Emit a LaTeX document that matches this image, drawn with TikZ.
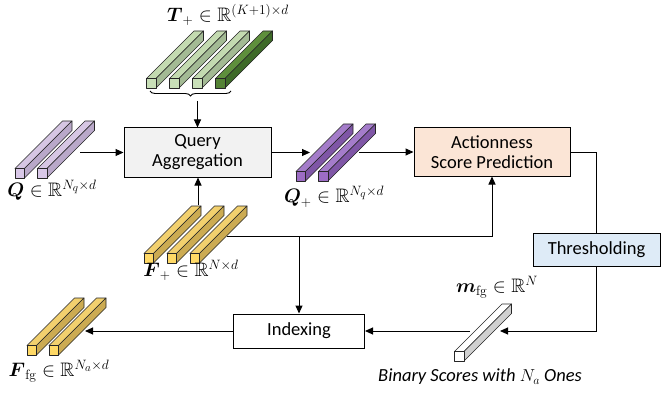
\documentclass[tikz,border=0pt]{standalone}
\usepackage{amsmath,amssymb}
\usepackage[no-math]{fontspec}
\setmainfont{Carlito}
\usetikzlibrary{arrows.meta,decorations.pathreplacing}
\definecolor{qafill}{HTML}{F2F2F2}
\definecolor{apfill}{HTML}{FBE5D6}
\definecolor{thfill}{HTML}{DEEBF7}
\definecolor{lgF}{HTML}{C9E0B8}\definecolor{lgT}{HTML}{C3DAB0}\definecolor{lgS}{HTML}{A3BA94}
\definecolor{dgF}{HTML}{548235}\definecolor{dgT}{HTML}{5E8F3C}\definecolor{dgS}{HTML}{3E6A28}
\definecolor{yF}{HTML}{FFD966}\definecolor{yT}{HTML}{F2D06E}\definecolor{yS}{HTML}{CCAB52}
\definecolor{lpF}{HTML}{D9C8E8}\definecolor{lpT}{HTML}{D6C6E3}\definecolor{lpS}{HTML}{B9A8C9}
\definecolor{dpF}{HTML}{9C6CC4}\definecolor{dpT}{HTML}{A47CCA}\definecolor{dpS}{HTML}{7F56A6}
\definecolor{wF}{HTML}{FFFFFF}\definecolor{wT}{HTML}{FFFFFF}\definecolor{wS}{HTML}{D0D0D0}
\def\bw{9.5}
\def\bd{47.5}
\newcommand{\tbar}[5]{%
  \filldraw[barline, fill=#4] (#1,#2-\bw) -- ++(\bw,0) -- ++(\bd,-\bd) -- ++(-\bw,0) -- cycle;
  \filldraw[barline, fill=#5] (#1+\bw,#2) -- ++(\bd,-\bd) -- ++(0,-\bw) -- ++(-\bd,\bd) -- cycle;
  \filldraw[barline, fill=#3] (#1,#2) rectangle ++(\bw,-\bw);
}
\newcommand{\mlab}[1]{\scalebox{0.94}{$#1$}}
\begin{document}
\begin{tikzpicture}[x=1pt,y=-1pt,
  barline/.style={draw=black!85, line width=0.6pt, line join=round},
  box/.style={draw, line width=1pt, align=center, inner sep=0pt, font=\fontsize{18.5}{20}\selectfont},
  arr/.style={-{Triangle[length=8pt,width=7pt]}, line width=1pt},
  ln/.style={line width=1pt},
  lbl/.style={inner sep=0pt, font=\fontsize{20.74}{22}\selectfont}]
\useasboundingbox (0,0) rectangle (661,393);
% boxes
\node[box, fill=qafill, minimum width=147pt, minimum height=49pt] (qa) at (197.5,152.5) {Query\\Aggregation};
\node[box, fill=apfill, minimum width=156pt, minimum height=48pt] (ap) at (492,152) {Actionness\\Score Prediction};
\node[box, fill=thfill, minimum width=127pt, minimum height=33pt] (th) at (596.5,249.5) {Thresholding};
\node[box, fill=white, minimum width=131pt, minimum height=34pt] (ix) at (299,331) {Indexing};
% bars
\tbar{15}{178}{lpF}{lpT}{lpS}
\tbar{37.5}{178}{lpF}{lpT}{lpS}
\tbar{296}{181}{dpF}{dpT}{dpS}
\tbar{318.5}{181}{dpF}{dpT}{dpS}
\tbar{146.5}{88}{lgF}{lgT}{lgS}
\tbar{169.5}{88}{lgF}{lgT}{lgS}
\tbar{192.5}{88}{lgF}{lgT}{lgS}
\tbar{215.5}{88}{dgF}{dgT}{dgS}
\tbar{144}{263}{yF}{yT}{yS}
\tbar{167}{263}{yF}{yT}{yS}
\tbar{190}{263}{yF}{yT}{yS}
\tbar{27}{355}{yF}{yT}{yS}
\tbar{49}{355}{yF}{yT}{yS}
\tbar{454.5}{361}{wF}{wT}{wS}
% labels
\node[lbl] (tl) at (228,15) {\mlab{\boldsymbol{T}_{+}\in\mathbb{R}^{(K+1)\times d}}};
\node[lbl] (ql) at (52,190) {\mlab{\boldsymbol{Q}\in\mathbb{R}^{N_q\times d}}};
\node[lbl] (qpl) at (334,197) {\mlab{\boldsymbol{Q}_{+}\in\mathbb{R}^{N_q\times d}}};
\node[lbl] (fl) at (191,270) {\mlab{\boldsymbol{F}_{+}\in\mathbb{R}^{N\times d}}};
\node[lbl] (ffl) at (59,371) {\mlab{\boldsymbol{F}_{\mathrm{fg}}\in\mathbb{R}^{N_a\times d}}};
\node[lbl] (ml) at (497,287) {\mlab{\boldsymbol{m}_{\mathrm{fg}}\in\mathbb{R}^{N}}};
\node[lbl, font=\fontsize{18.5}{20}\selectfont\itshape] (bl) at (480,377) {Binary Scores with $N_a$ Ones};
% coordinates
\coordinate (qout) at (80,152.5);
\coordinate (qpin) at (310,152.5);
\coordinate (qpout) at (359,152);
\coordinate (fup) at (198,205);
\coordinate (fright) at (227,236);
\coordinate (junc) at (299,236);
\coordinate (mtip) at (500,331);
\coordinate (mout) at (470,331);
\coordinate (fftip) at (85,331);
\coordinate (bl1) at (150,91);
\coordinate (br1) at (231,91);
\coordinate (btip) at (197.5,101);
% connectors
\draw[decorate, decoration={brace, mirror, amplitude=5pt}, line width=0.9pt] (bl1) -- (br1);
\draw[arr] (btip) -- (qa.north);
\draw[arr] (qout) -- (qa.west);
\draw[arr] (qa.east) -- (qpin);
\draw[arr] (qpout) -- (qpout -| ap.west);
\draw[ln] (ap.east) -| (th.north);
\draw[arr] (th.south) |- (mtip);
\draw[arr] (mout) -- (ix.east);
\draw[arr] (ix.west) -- (fftip);
\draw[arr] (fup) -- (fup |- qa.south);
\draw[arr] (fright) -| (ap.south);
\draw[arr] (junc) -- (ix.north);
\end{tikzpicture}
\end{document}
